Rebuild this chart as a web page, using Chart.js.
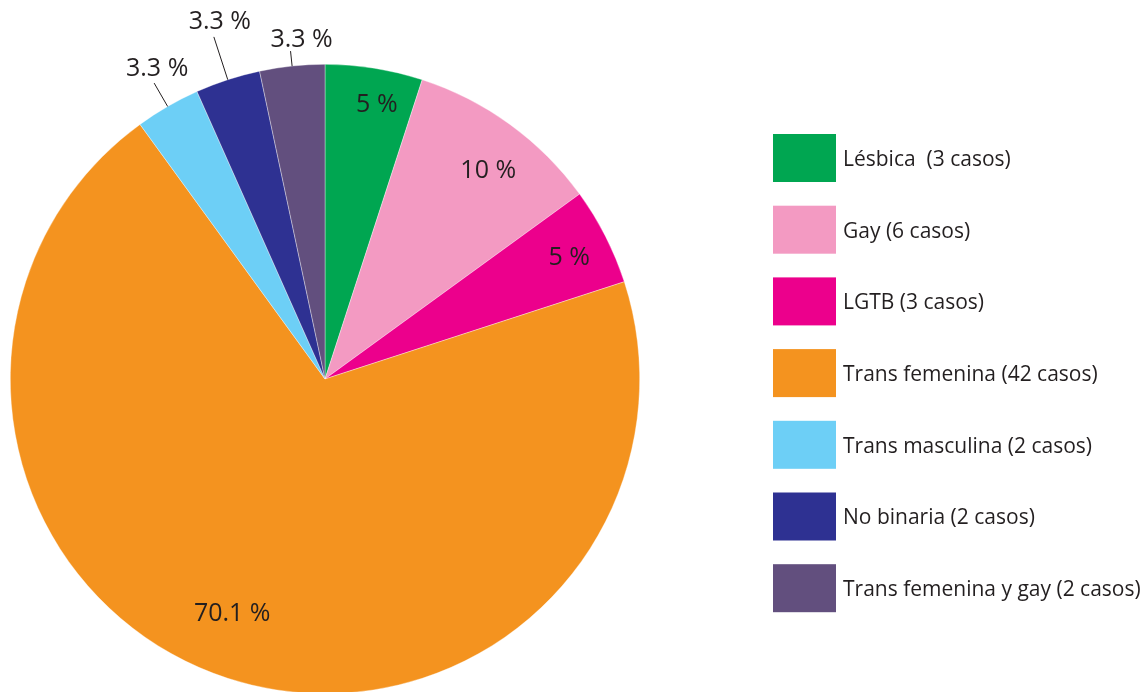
<!DOCTYPE html>
<html>
<head>
<meta charset="utf-8">
<script src="https://cdn.jsdelivr.net/npm/chart.js@4/dist/chart.umd.min.js"></script>
<style>
    html, body { margin: 0; padding: 0; background: #fff; overflow: hidden; }
    #wrap { position: relative; width: 1147px; height: 700px; }
</style>
</head>
<body>
<div id="wrap"><canvas id="pieChart"></canvas></div>
<script>

// ==========================================
// Data
// ==========================================

const categories = [
    "Lésbica  (3 casos)",
    "Gay (6 casos)",
    "LGTB (3 casos)",
    "Trans femenina (42 casos)",
    "Trans masculina (2 casos)",
    "No binaria (2 casos)",
    "Trans femenina y gay (2 casos)"
];

const cases = [3, 6, 3, 42, 2, 2, 2];

const pctLabels = ["5 %", "10 %", "5 %", "70.1 %", "3.3 %", "3.3 %", "3.3 %"];

const colors = [
    "#00a651",
    "#f39ac2",
    "#ec008c",
    "#f4931f",
    "#6dcff6",
    "#2e3192",
    "#624f7e"
];

const textColor = "#231f20";
const font = "'Open Sans', 'Noto Sans', sans-serif";


// ==========================================
// Slice labels (inside or with leader line)
// ==========================================

// per slice: inside radius fraction + nudge, or leader length + text shift
const labelStyle = [
    { inside: 0.89, dx: 8, dy: 3 },
    { inside: 0.85, dx: 6, dy: 8 },
    { inside: 0.86, dx: 3, dy: 2 },
    { inside: 0.80, dx: -15, dy: -5 },
    { leader: 27, dx: 3, dy: -7 },
    { leader: 45, dx: 6, dy: -8 },
    { leader: 15, dx: 11, dy: -4 }
];

const sliceLabels = {
    id: "sliceLabels",
    afterDatasetsDraw(chart) {
        const ctx = chart.ctx;
        const arcs = chart.getDatasetMeta(0).data;

        ctx.save();
        ctx.font = "25px " + font;
        ctx.fillStyle = textColor;
        ctx.strokeStyle = textColor;
        ctx.lineWidth = 1;
        ctx.textAlign = "center";

        arcs.forEach((arc, i) => {
            const p = arc.getProps(["x", "y", "startAngle", "endAngle", "outerRadius"], true);
            const mid = (p.startAngle + p.endAngle) / 2;
            const st = labelStyle[i];

            if (st.inside) {
                const r = p.outerRadius * st.inside;
                ctx.textBaseline = "middle";
                ctx.fillText(pctLabels[i],
                    p.x + Math.cos(mid) * r + st.dx,
                    p.y + Math.sin(mid) * r + st.dy);
            } else {
                const x1 = p.x + Math.cos(mid) * p.outerRadius;
                const y1 = p.y + Math.sin(mid) * p.outerRadius;
                const x2 = p.x + Math.cos(mid) * (p.outerRadius + st.leader);
                const y2 = p.y + Math.sin(mid) * (p.outerRadius + st.leader);
                ctx.beginPath();
                ctx.moveTo(x1, y1);
                ctx.lineTo(x2, y2);
                ctx.stroke();
                ctx.textBaseline = "alphabetic";
                ctx.fillText(pctLabels[i], x2 + st.dx, y2 + st.dy);
            }
        });

        ctx.restore();
    }
};


// ==========================================
// Legend on the right
// ==========================================

const boxLegend = {
    id: "boxLegend",
    afterDraw(chart) {
        const ctx = chart.ctx;
        const left = 773;
        const top = 134;
        const step = 71.7;

        ctx.save();
        ctx.font = "21px " + font;
        ctx.textBaseline = "middle";
        ctx.textAlign = "left";

        categories.forEach((label, i) => {
            const y = top + i * step;
            ctx.fillStyle = colors[i];
            ctx.fillRect(left, y, 63, 48);
            ctx.fillStyle = textColor;
            ctx.fillText(label, left + 70, y + 26);
        });

        ctx.restore();
    }
};


// ==========================================
// Chart
// ==========================================

new Chart(document.getElementById("pieChart"), {
    type: "pie",
    data: {
        labels: categories,
        datasets: [{
            data: cases,
            backgroundColor: colors,
            borderColor: "rgba(255,255,255,0.6)",
            borderWidth: 0.6
        }]
    },
    options: {
        responsive: true,
        maintainAspectRatio: false,
        animation: false,
        layout: {
            padding: { left: 10, right: 507, top: 64, bottom: 6 }
        },
        plugins: {
            legend: { display: false },
            tooltip: { enabled: false }
        }
    },
    plugins: [sliceLabels, boxLegend]
});

</script>
</body>
</html>
